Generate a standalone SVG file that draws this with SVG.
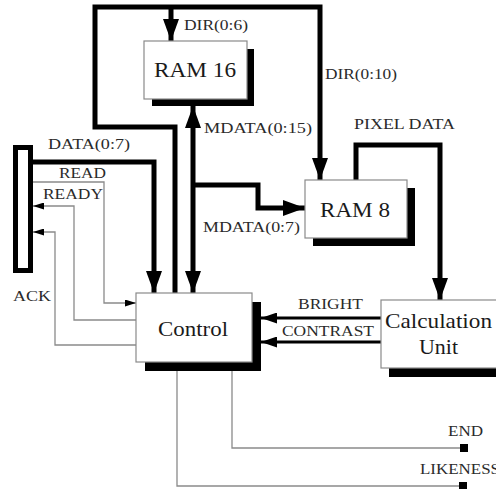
<svg xmlns="http://www.w3.org/2000/svg" width="496" height="489" viewBox="0 0 496 489">
<defs>
<marker id="big" markerUnits="userSpaceOnUse" markerWidth="22" markerHeight="16" refX="22" refY="8" orient="auto">
<path d="M0,0 L22,8 L0,16 z" fill="#000"/>
</marker>
<marker id="mid" markerUnits="userSpaceOnUse" markerWidth="16" markerHeight="11" refX="16" refY="5.5" orient="auto">
<path d="M0,0 L16,5.5 L0,11 z" fill="#000"/>
</marker>
<marker id="small" markerUnits="userSpaceOnUse" markerWidth="11" markerHeight="7" refX="11" refY="3.5" orient="auto">
<path d="M0,0 L11,3.5 L0,7 z" fill="#000"/>
</marker>
</defs>
<style>
.thick{fill:none;stroke:#000;stroke-width:5;stroke-linejoin:miter}
.med{fill:none;stroke:#000;stroke-width:3}
.thin{fill:none;stroke:#8a8a8a;stroke-width:1.3}
.box{fill:#fff;stroke:#8a8a8a;stroke-width:1.2}
.shadow{fill:#000}
text{font-family:"Liberation Serif",serif}
.lbl{font-size:15px;fill:#2a2a2a}
.title{font-size:22px;fill:#1a1a1a}
</style>
<g id="connectors">
<path class="thick" d="M175,293 V127 H95 V7 H320 V180" marker-end="url(#big)"/>
<path class="thick" d="M171,7 V41" marker-end="url(#big)"/>
<path class="thick" d="M193,200 V293" marker-end="url(#big)"/>
<path class="thick" d="M193,200 V106" marker-end="url(#big)"/>
<path class="thick" d="M193,185 H258 V208 H305" marker-end="url(#big)"/>
<path class="thick" d="M33,162 H154 V293" marker-end="url(#big)"/>
<path class="thick" d="M356,180 V145 H440 V300" marker-end="url(#big)"/>
<path class="med" d="M381,318 H261" marker-end="url(#mid)"/>
<path class="med" d="M381,342 H261" marker-end="url(#mid)"/>
<path class="thin" d="M33,182 H104 V303 H136" marker-end="url(#small)"/>
<path class="thin" d="M136,320 H74 V206 H33" marker-end="url(#small)"/>
<path class="thin" d="M136,345 H55 V232 H33" marker-end="url(#small)"/>
<path class="thin" d="M232,362 V448 H462"/>
<path class="thin" d="M177,362 V486 H462"/>
<rect x="460" y="444" width="8" height="8" fill="#000"/>
<rect x="459" y="482" width="8" height="8" fill="#000"/>
<text class="lbl" font-family="Liberation Serif" x="184" y="30" textLength="64" lengthAdjust="spacingAndGlyphs">DIR(0:6)</text>
<text class="lbl" font-family="Liberation Serif" x="325" y="79" textLength="72" lengthAdjust="spacingAndGlyphs">DIR(0:10)</text>
<text class="lbl" font-family="Liberation Serif" x="48" y="149" textLength="82" lengthAdjust="spacingAndGlyphs">DATA(0:7)</text>
<text class="lbl" font-family="Liberation Serif" x="59" y="178" textLength="47" lengthAdjust="spacingAndGlyphs">READ</text>
<text class="lbl" font-family="Liberation Serif" x="43" y="199" textLength="60" lengthAdjust="spacingAndGlyphs">READY</text>
<text class="lbl" font-family="Liberation Serif" x="13" y="301" textLength="38" lengthAdjust="spacingAndGlyphs">ACK</text>
<text class="lbl" font-family="Liberation Serif" x="204" y="133" textLength="108" lengthAdjust="spacingAndGlyphs">MDATA(0:15)</text>
<text class="lbl" font-family="Liberation Serif" x="203" y="232" textLength="97" lengthAdjust="spacingAndGlyphs">MDATA(0:7)</text>
<text class="lbl" font-family="Liberation Serif" x="354" y="129" textLength="101" lengthAdjust="spacingAndGlyphs">PIXEL DATA</text>
<text class="lbl" font-family="Liberation Serif" x="298" y="309" textLength="65" lengthAdjust="spacingAndGlyphs">BRIGHT</text>
<text class="lbl" font-family="Liberation Serif" x="282" y="336" textLength="92" lengthAdjust="spacingAndGlyphs">CONTRAST</text>
<text class="lbl" font-family="Liberation Serif" x="448" y="436" textLength="35" lengthAdjust="spacingAndGlyphs">END</text>
<text class="lbl" font-family="Liberation Serif" x="420" y="474" textLength="80" lengthAdjust="spacingAndGlyphs">LIKENESS</text>
</g>
<g id="bus">
<rect x="15.5" y="147.5" width="15" height="123" fill="#fff" stroke="#000" stroke-width="5"/>
</g>
<g id="ram16">
<rect class="shadow" x="152" y="49" width="102" height="57"/>
<rect class="box" x="144" y="41" width="103" height="58"/>
<text class="title" font-family="Liberation Serif" x="195" y="77" text-anchor="middle" textLength="82" lengthAdjust="spacingAndGlyphs">RAM 16</text>
</g>
<g id="ram8">
<rect class="shadow" x="313" y="188" width="102" height="58"/>
<rect class="box" x="305" y="180" width="102" height="58"/>
<text class="title" font-family="Liberation Serif" x="355" y="217" text-anchor="middle" textLength="70" lengthAdjust="spacingAndGlyphs">RAM 8</text>
</g>
<g id="control">
<rect class="shadow" x="145" y="302" width="116" height="69"/>
<rect class="box" x="136" y="293" width="116" height="69"/>
<text class="title" font-family="Liberation Serif" x="193" y="336" text-anchor="middle" textLength="70" lengthAdjust="spacingAndGlyphs">Control</text>
</g>
<g id="calc">
<rect class="shadow" x="389" y="308" width="118" height="69"/>
<rect class="box" x="381" y="300" width="118" height="68"/>
<text class="title" font-family="Liberation Serif" x="438.5" y="328" text-anchor="middle" textLength="107" lengthAdjust="spacingAndGlyphs">Calculation</text>
<text class="title" font-family="Liberation Serif" x="438.5" y="354" text-anchor="middle" textLength="39" lengthAdjust="spacingAndGlyphs">Unit</text>
</g>
</svg>
